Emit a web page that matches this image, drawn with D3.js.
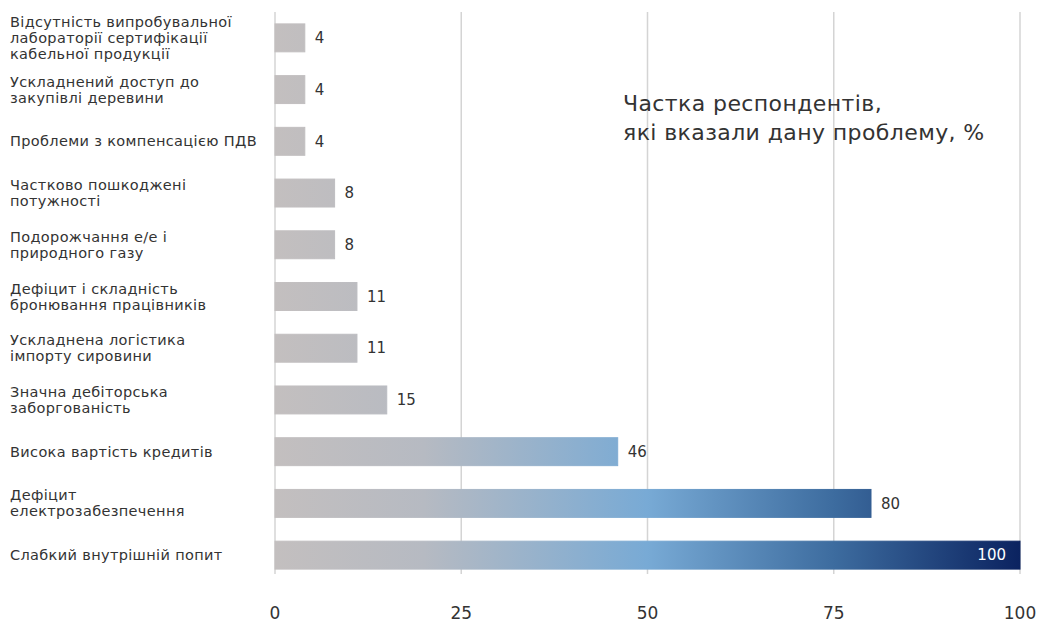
<!DOCTYPE html>
<html>
<head>
<meta charset="utf-8">
<script src="https://cdn.jsdelivr.net/npm/d3@7"></script>
<style>
  body { margin: 0; background: #fff; }
  text { font-family: "DejaVu Sans", "Open Sans", sans-serif; fill: #333; }
</style>
</head>
<body>
<div id="chart"></div>
<script>
// categories (top to bottom), each label split in lines
var categories = [
  ["Відсутність випробувальної", "лабораторії сертифікації", "кабельної продукції"],
  ["Ускладнений доступ до", "закупівлі деревини"],
  ["Проблеми з компенсацією ПДВ"],
  ["Частково пошкоджені", "потужності"],
  ["Подорожчання е/е і", "природного газу"],
  ["Дефіцит і складність", "бронювання працівників"],
  ["Ускладнена логістика", "імпорту сировини"],
  ["Значна дебіторська", "заборгованість"],
  ["Висока вартість кредитів"],
  ["Дефіцит", "електрозабезпечення"],
  ["Слабкий внутрішній попит"]
];
var values = [4, 4, 4, 8, 8, 11, 11, 15, 46, 80, 100];
var xTicks = [0, 25, 50, 75, 100];
var titleLines = ["Частка респондентів,", "які вказали дану проблему, %"];

var w = 1037, h = 624;
var marges = {left: 275, right: 17, top: 12, bottom: 43};

var svg = d3.select("#chart")
  .append("svg")
    .attr("width", w)
    .attr("height", h);

var ids = categories.map(function(d, i) { return "c" + i; });

var x = d3.scaleLinear()
  .domain([0, 100])
  .range([marges.left, w - marges.right]);

var y = d3.scaleBand()
  .domain(ids)
  .range([marges.top, h - marges.bottom])
  .paddingInner(0.46)
  .paddingOuter(0.23);

// gradient over the whole axis
var grad = svg.append("defs").append("linearGradient")
  .attr("id", "barGrad")
  .attr("gradientUnits", "userSpaceOnUse")
  .attr("x1", x(0)).attr("x2", x(100))
  .attr("y1", 0).attr("y2", 0);
[[0, "#c3bfbf"], [0.2, "#b6bac2"], [0.5, "#78aad5"], [0.75, "#3d6c9f"], [1, "#0b2360"]]
  .forEach(function(s) {
    grad.append("stop").attr("offset", s[0]).attr("stop-color", s[1]);
  });

// gridlines
svg.append("g")
  .selectAll("line")
  .data(xTicks)
  .enter().append("line")
    .attr("x1", function(d) { return x(d); })
    .attr("x2", function(d) { return x(d); })
    .attr("y1", marges.top)
    .attr("y2", h - marges.bottom - 7)
    .attr("stroke", "#d4d4d4")
    .attr("stroke-width", 1.5);

// x tick labels
svg.append("g")
  .selectAll("text")
  .data(xTicks)
  .enter().append("text")
    .attr("x", function(d) { return x(d); })
    .attr("y", 619)
    .attr("text-anchor", "middle")
    .style("font-size", "17px")
    .text(function(d) { return d; });

// bars
svg.append("g")
  .selectAll("rect")
  .data(values)
  .enter().append("rect")
    .attr("x", x(0))
    .attr("y", function(d, i) { return y(ids[i]); })
    .attr("width", function(d) { return x(d) - x(0); })
    .attr("height", y.bandwidth())
    .attr("fill", "url(#barGrad)")
    .attr("stroke", "url(#barGrad)")
    .attr("stroke-width", 1);

// value labels
svg.append("g")
  .selectAll("text")
  .data(values)
  .enter().append("text")
    .attr("x", function(d) { return d == 100 ? x(d) - 14 : x(d) + 10; })
    .attr("y", function(d, i) { return y(ids[i]) + y.bandwidth() / 2; })
    .attr("dy", "0.35em")
    .attr("text-anchor", function(d) { return d == 100 ? "end" : "start"; })
    .style("font-size", "15px")
    .style("fill", function(d) { return d == 100 ? "#fff" : "#333"; })
    .text(function(d) { return d; });

// category labels
var lineH = 16;
categories.forEach(function(lines, i) {
  var cy = y(ids[i]) + y.bandwidth() / 2;
  var t = svg.append("text")
    .attr("x", 10)
    .attr("y", cy - (lines.length - 1) * lineH / 2)
    .style("font-size", "14.5px")
    .style("letter-spacing", "0.35px");
  lines.forEach(function(l, j) {
    t.append("tspan")
      .attr("x", 10)
      .attr("dy", j == 0 ? "0.35em" : lineH)
      .text(l);
  });
});

// title
svg.append("g")
  .selectAll("text")
  .data(titleLines)
  .enter().append("text")
    .attr("x", 623)
    .attr("y", function(d, i) { return 111 + i * 29; })
    .style("font-size", "22px")
    .style("letter-spacing", "0.4px")
    .text(function(d) { return d; });
</script>
</body>
</html>
